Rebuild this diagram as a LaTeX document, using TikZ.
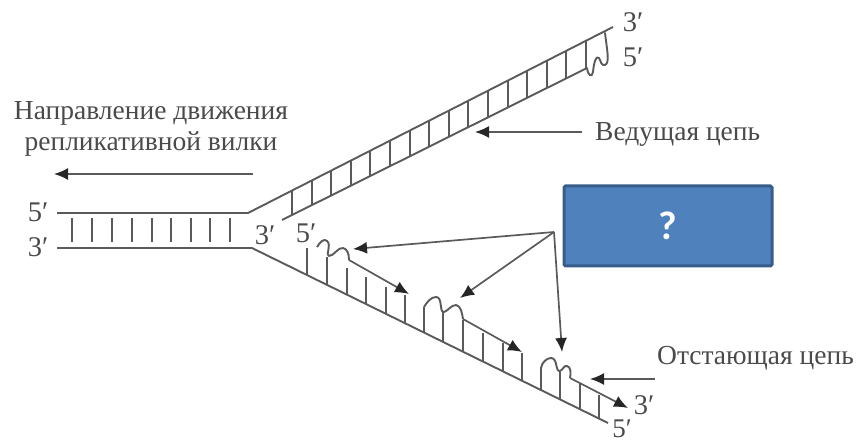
\documentclass[tikz,border=0pt]{standalone}
\usepackage{fontspec}
\setmainfont{Liberation Serif}
\newfontfamily\boxfont{Carlito}
\usetikzlibrary{arrows.meta}
\definecolor{ink}{HTML}{5A5A5A}
\definecolor{txt}{HTML}{4A4A4A}
\definecolor{qfill}{HTML}{4F81BD}
\definecolor{qedge}{HTML}{385D8A}
\tikzset{
  strand/.style={draw=ink,line width=1.9pt,line join=round},
  rung/.style={draw=ink,line width=1.9pt},
  pointer/.style={draw=ink,line width=1.7pt,-{Latex[length=14pt,width=12pt,color=black!85]}},
  lab/.style={text=txt,font=\fontsize{28.5}{30}\selectfont,inner sep=0pt},
  note/.style={text=txt,font=\fontsize{27.5}{31.5}\selectfont,inner sep=0pt},
  qbox/.style={draw=qedge,fill=qfill,line width=3pt,rounded corners=1.5pt,minimum width=208pt,minimum height=80pt,inner sep=0pt,text=white,font=\boxfont\bfseries\fontsize{40}{42}\selectfont}
}
\begin{document}
\begin{tikzpicture}[x=1pt,y=-1pt]
\useasboundingbox (0,0) rectangle (856,443);
% main strands
\draw[strand] (57,213) -- (248,213) -- (613,27);
\draw[strand] (57,248) -- (252,248) -- (608,423);
\draw[strand] (282,220) -- (587,68);
% central rungs
\foreach \x in {72,92,112,132,152,171,191,210,230}
  \draw[rung] (\x,218) -- (\x,242);
% leading rungs
\foreach \n in {0,...,15}{
  \pgfmathsetmacro{\x}{292+19.6*\n}
  \pgfmathsetmacro{\t}{191-0.51*(\x-292)}
  \pgfmathsetmacro{\b}{220-0.498*(\x-282)}
  \draw[rung] (\x,\t) -- (\x,\b);
}
% leading end
\draw[strand,line cap=round] (587,68) .. controls (588,76) and (592,78) .. (593,72)
  .. controls (594,62) and (596,55) .. (599,58)
  .. controls (601,61) and (601,66) .. (605,65)
  .. controls (610,63) and (607,50) .. (605,33);
% lagging rungs
\foreach \x/\t in {307/248,327/257,347/268,366/277,386/287,405/295,
                   424/307,443/312,463/320,483/333,503/343,522/353,
                   541/367,560/372,580/383,599/395}{
  \pgfmathsetmacro{\b}{248+0.493*(\x-253)}
  \draw[rung] (\x,\t) -- (\x,\b);
}
% fragments
\coordinate (f1a) at (349,260); \coordinate (f1b) at (409,294);
\coordinate (f2a) at (463,319); \coordinate (f2b) at (522,352);
\coordinate (f3a) at (570,378); \coordinate (f3b) at (628,408);
\draw[strand] (317,247) .. controls (320,242) and (324,238) .. (327,241)
  .. controls (332,245) and (325,256) .. (329,256)
  .. controls (334,256) and (338,247) .. (343,248)
  .. controls (347,249) and (349,253) .. (f1a);
\draw[strand] (424,307) .. controls (427,302) and (431,297) .. (436,297)
  .. controls (443,297) and (439,313) .. (444,312)
  .. controls (448,311) and (451,305) .. (456,305)
  .. controls (461,306) and (462,313) .. (f2a);
\draw[strand] (541,368) .. controls (542,362) and (547,358) .. (551,358)
  .. controls (558,358) and (555,372) .. (560,371)
  .. controls (563,370) and (564,365) .. (567,366)
  .. controls (571,367) and (571,373) .. (f3a);
\draw[pointer] (f1a) -- (f1b);
\draw[pointer] (f2a) -- (f2b);
\draw[pointer] (f3a) -- (f3b);
% labels
\node[lab] (a1) at (38,212) {5′};
\node[lab] (a2) at (38,247) {3′};
\node[lab] (a3) at (265,235) {3′};
\node[lab] (a4) at (306,233) {5′};
\node[lab] (a5) at (633,22) {3′};
\node[lab] (a6) at (633,57) {5′};
\node[lab] (a7) at (644,405) {3′};
\node[lab,font=\fontsize{27}{29}\selectfont] (a8) at (622,428.5) {5′};
\node[note,align=center] (dir) at (151,129) {Направление движения\\репликативной вилки};
\node[note,anchor=west] (lead) at (595,134) {Ведущая цепь};
\node[note,anchor=west] (lag) at (657,358) {Отстающая цепь};
\node[qbox] (q) at (668,226) {\raisebox{-1pt}{?}};
% pointers
\coordinate (d1) at (253,174); \coordinate (d2) at (54,174);
\draw[pointer] (d1) -- (d2);
\coordinate (l1) at (582,132); \coordinate (l2) at (475,132);
\draw[pointer] (l1) -- (l2);
\coordinate (g1) at (655,379); \coordinate (g2) at (590,379);
\draw[pointer] (g1) -- (g2);
\coordinate (hub) at (554,232);
\coordinate (t1) at (353,249); \coordinate (t2) at (460,298); \coordinate (t3) at (562,352);
\draw[pointer] (hub) -- (t1);
\draw[pointer] (hub) -- (t2);
\draw[pointer] (hub) -- (t3);
\end{tikzpicture}
\end{document}
